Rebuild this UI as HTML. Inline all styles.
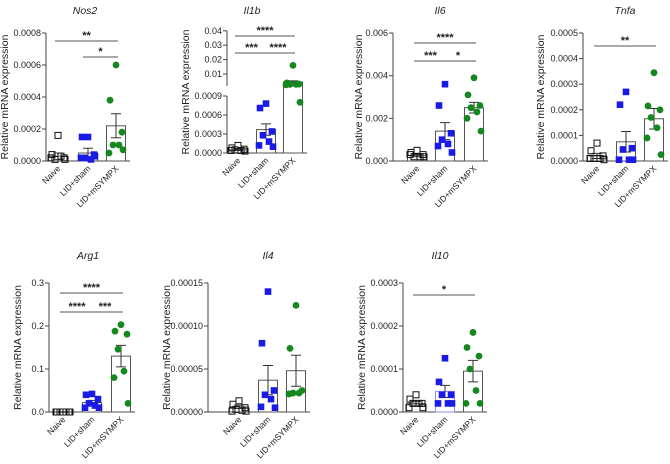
<!DOCTYPE html>
<html><head><meta charset="utf-8"><style>
html,body{margin:0;padding:0;background:#fff;}
svg{display:block;font-family:"Liberation Sans",sans-serif;}
</style></head><body>
<svg id="c" width="670" height="464" viewBox="0 0 670 464"></svg>
<script>
const groups = ["Naive","LID+sham","LID+mSYMPX"];
// Nos2
const nos2Pts = [[0.00016,0.00004,0.00002,0.00001,0.00003,0.00002,0.00001],[0.00015,0.00015,0.00004,0.00002,0.00001,0.00002,0.00003],[0.0006,0.00038,0.00018,0.0001,0.0001,0.00005,0.00007]];
const nos2Mean = [0.00003,0.00005,0.00022];
const nos2Sem = [0.00002,0.00003,0.000075];
// Il1b
const il1bPts = [[0.00012,0.00008,0.00006,0.00005,0.00004,0.00004,0.00003],[0.00078,0.00071,0.00034,0.00028,0.00018,0.00012,0.0001],[0.016,0.0038,0.003,0.0028,0.0028,0.0025,0.0008]];
const il1bMean = [0.00005,0.00037,0.0045];
const il1bSem = [0.00001,0.00009,0.0007];
// Il6
const il6Pts = [[0.0005,0.0004,0.0003,0.0002,0.0002,0.0003,0.0002],[0.0036,0.0026,0.0013,0.001,0.0008,0.0007,0.0004],[0.0039,0.0031,0.0026,0.0025,0.0023,0.002,0.0014]];
const il6Mean = [0.00025,0.0014,0.0025];
const il6Sem = [0.00005,0.0004,0.00025];
// Tnfa
const tnfaPts = [[0.00007,0.00004,0.00002,0.00001,0.00001,0.00001,0.000005],[0.00027,0.00022,0.00005,0.000045,0.000005,0.000005,0.000005],[0.000345,0.000215,0.0002,0.00017,0.00013,0.00009,0.000025]];
const tnfaMean = [0.00002,0.000075,0.000165];
const tnfaSem = [0.00001,0.00004,0.00004];
// Arg1
const arg1Pts = [[0,0,0,0,0,0,0],[0.042,0.04,0.03,0.02,0.015,0.01,0.01],[0.203,0.188,0.181,0.146,0.095,0.08,0.02]];
const arg1Mean = [0.0,0.022,0.13];
const arg1Sem = [0.0005,0.005,0.025];
// Il4
const il4Pts = [[0.000013,0.000009,0.000005,0.000003,0.000002,0.000001,0.000001],[0.00014,0.00008,0.000025,0.00002,0.000015,0.000006,0.000005],[0.000124,0.000074,0.000025,0.000022,0.000022,0.000021]];
const il4Mean = [0.000006,0.000037,0.000048];
const il4Sem = [0.000002,0.000017,0.000018];
// Il10
const il10Pts = [[0.00004,0.00003,0.00002,0.00002,0.00002,0.00001,0.00001],[0.000125,0.00007,0.00004,0.00004,0.00002,0.00002,0.00002],[0.000185,0.00015,0.00013,0.0001,0.00005,0.00002,0.00002]];
const il10Mean = [0.00002,0.000048,0.000095];
const il10Sem = [0.000004,0.000014,0.000025];

const nos2Ticks = ["0.0000","0.0002","0.0004","0.0006","0.0008"];
const il6Ticks = ["0.000","0.002","0.004","0.006"];
const tnfaTicks = ["0.0000","0.0001","0.0002","0.0003","0.0004","0.0005"];
const arg1Ticks = ["0.0","0.1","0.2","0.3"];
const il4Ticks = ["0.00000","0.00005","0.00010","0.00015"];
const il10Ticks = ["0.0000","0.0001","0.0002","0.0003"];
const il1bLowTicks = ["0.0000","0.0003","0.0006","0.0009"];
const il1bHighTicks = ["0.01","0.02","0.03","0.04"];

const svg = document.getElementById('c');
const NS = "http://www.w3.org/2000/svg";
function mk(tag, attrs, parent){const e=document.createElementNS(NS,tag);for(const k in attrs)e.setAttribute(k,attrs[k]);(parent||svg).appendChild(e);return e;}
const colors=["#000","#1a1ae6","#14871e"];
const jit=[0,-6,6,-3,3,-7,7];

function panel(cfg){
  const g=mk('g',{});
  
  
  const y=cfg.y;
  const t=mk('text',{x:cfg.tx,y:cfg.ty,'font-size':10.5,'font-style':'italic','text-anchor':'middle',fill:'#222'},g);
  t.textContent=cfg.title;
  
  
  const yt=mk('text',{x:0,y:0,'font-size':10.5,'text-anchor':'middle',fill:'#222',transform:`translate(${cfg.ax-cfg.ytOff},${(cfg.top+cfg.bot)/2}) rotate(-90)`},g);
  yt.textContent="Relative mRNA expression";
  
  
  const xa=mk('line',{x1:cfg.ax,x2:cfg.bx[2]+14,y1:cfg.bot,y2:cfg.bot,stroke:'#444','stroke-width':1},g);
  
  
  if(cfg.segments){
    cfg.segments.forEach(s=>mk('line',{x1:cfg.ax,x2:cfg.ax,y1:s[0],y2:s[1],stroke:'#444'},g));
  } else {
    const ya=mk('line',{x1:cfg.ax,x2:cfg.ax,y1:cfg.top,y2:cfg.bot,stroke:'#444'},g);
    
    
  }
  cfg.ticks.forEach(tk=>{
    const yy=y(tk.v);
    mk('line',{x1:cfg.ax-4,x2:cfg.ax,y1:yy,y2:yy,stroke:'#444'},g);
    const tl=mk('text',{x:cfg.ax-5,y:yy+3,'font-size':9,'text-anchor':'end',fill:'#222'},g);
    tl.textContent=tk.l;
    
    
  });
  for(let i=0;i<3;i++){
    const cx=cfg.bx[i], m=cfg.mean[i], s=cfg.sem[i];
    const bw=19;
    const r=mk('rect',{x:cx-bw/2,y:y(m),width:bw,height:Math.max(0,cfg.bot-y(m)),fill:'#fff',stroke:(cfg.lidBlue&&i==1)?'#8d8df0':'#555','stroke-width':1},g);
    
    
    const eb=mk('path',{d:`M${cx} ${y(m-s)}V${y(m+s)}M${cx-5} ${y(m+s)}H${cx+5}M${cx-5} ${y(m-s)}H${cx+5}`,stroke:'#333',fill:'none','stroke-width':1},g);
    
    
    cfg.pts[i].forEach((v,j)=>{
      const px=cx+jit[j%7], py=y(v);
      let p;
      if(i==0) p=mk('rect',{x:px-3,y:py-3,width:6,height:6,fill:'none',stroke:'#111','stroke-width':1},g);
      else if(i==1) p=mk('rect',{x:px-3.3,y:py-3.3,width:6.6,height:6.6,fill:colors[1]},g);
      else p=mk('circle',{cx:px,cy:py,r:3.4,fill:colors[2]},g);
      
      
    });
    const xl=mk('text',{x:0,y:0,'font-size':8.5,'text-anchor':'end',fill:'#222',transform:`translate(${cx+3},${cfg.bot+8}) rotate(-45)`},g);
    xl.textContent=groups[i];
    
    
  }
  cfg.sig.forEach(s=>{
    const x1=cfg.bx[s[0]]-3+(s[0]==1&&s[1]==2?-2:0), x2=cfg.bx[s[1]]+2;
    const l=mk('line',{x1:x1,x2:(s[0]==0&&s[1]==1)?x2-3:x2,y1:s[2],y2:s[2],stroke:'#555','stroke-width':1},g);
    
    
    const st=mk('text',{x:(x1+x2)/2,y:s[2]-2,'font-size':11,'font-weight':'bold','text-anchor':'middle',fill:'#222'},g);
    st.textContent=s[3];
    
    
  });
}
function lin(top,bot,max){return v=>bot-(v/max)*(bot-top);}
function tk(labels){return labels.map(l=>({v:parseFloat(l),l:l}));}

panel({id:'nos2',title:'Nos2',tx:85,ty:14,ax:46,ytOff:38,top:33,bot:161,y:lin(33,161,0.0008),bx:[58,88,116],ticks:tk(nos2Ticks),mean:nos2Mean,sem:nos2Sem,pts:nos2Pts,sig:[[0,2,41,'**'],[1,2,57,'*']]});
const il1bY=v=> v<=0.0009 ? 153-(v/0.0009)*57 : Math.min(88.4-v*1440, 90);
panel({id:'il1b',title:'Il1b',tx:252,ty:14,ax:227,ytOff:38,top:31,bot:153,y:il1bY,segments:[[31,86],[96,153]],bx:[238,266,293],
  ticks:tk(il1bLowTicks).concat(tk(il1bHighTicks)),mean:il1bMean,sem:il1bSem,pts:il1bPts,sig:[[0,2,36,'****'],[0,1,53,'***'],[1,2,53,'****']]});
panel({id:'il6',title:'Il6',tx:440,ty:14,ax:393,ytOff:31,top:33,bot:161,y:lin(33,161,0.006),bx:[417,445,474],ticks:tk(il6Ticks),mean:il6Mean,sem:il6Sem,pts:il6Pts,sig:[[0,2,43,'****'],[0,1,61,'***'],[1,2,61,'*']]});
panel({id:'tnfa',title:'Tnfa',tx:625,ty:14,ax:583,ytOff:39,top:33,bot:161,y:lin(33,161,0.0005),bx:[597,626,654],ticks:tk(tnfaTicks),mean:tnfaMean,sem:tnfaSem,pts:tnfaPts,sig:[[0,2,46,'**']]});
panel({id:'arg1',title:'Arg1',tx:88,ty:259,ax:49,ytOff:28,top:283,bot:412,y:lin(283,412,0.3),bx:[63,92,121],ticks:tk(arg1Ticks),mean:arg1Mean,sem:arg1Sem,pts:arg1Pts,sig:[[0,2,293,'****'],[0,1,312,'****'],[1,2,312,'***']]});
panel({id:'il4',title:'Il4',tx:268,ty:259,ax:208,ytOff:38,top:283,bot:412,y:lin(283,412,0.00015),bx:[239,268,296],ticks:tk(il4Ticks),mean:il4Mean,sem:il4Sem,pts:il4Pts,sig:[]});
panel({id:'il10',title:'Il10',tx:440,ty:259,ax:403,ytOff:38,top:283,bot:412,y:lin(283,412,0.0003),bx:[416,445,473],ticks:tk(il10Ticks),mean:il10Mean,sem:il10Sem,pts:il10Pts,sig:[[0,2,295,'*']],lidBlue:true});
</script>
</body></html>
